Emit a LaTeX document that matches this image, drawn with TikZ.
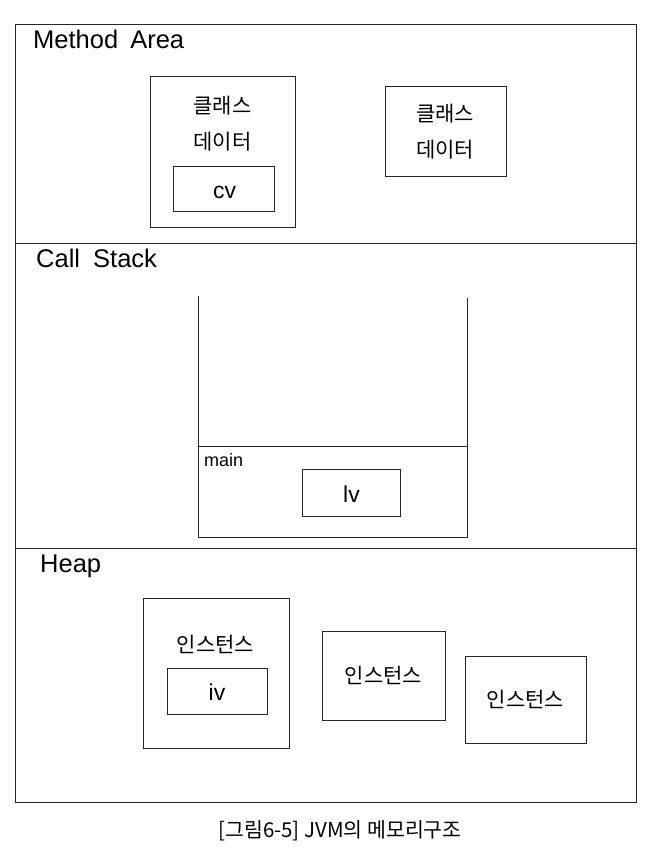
\documentclass[tikz,border=0pt]{standalone}
\usepackage{fontspec}
\setmainfont{Liberation Sans}
\newfontfamily\kr{Noto Sans CJK KR}
\begin{document}
\begin{tikzpicture}[x=1pt,y=-1pt,
  box/.style={draw=black!85,line width=1pt,inner sep=0pt},
  lbl/.style={inner sep=0pt,font=\fontsize{25.5}{30}\selectfont},
  krl/.style={inner sep=0pt,font=\kr\fontsize{21}{25}\selectfont},
  var/.style={inner sep=0pt,font=\fontsize{23}{27}\selectfont}]
\useasboundingbox[fill=white] (0,0) rectangle (648,866);
% outer frame and dividers
\node[box,minimum width=621pt,minimum height=777pt] (outer) at (325.5,413.5) {};
\coordinate (d1l) at (15,243.5); \coordinate (d1r) at (636,243.5);
\coordinate (d2l) at (15,548.5); \coordinate (d2r) at (636,548.5);
\draw[black!85,line width=1pt] (d1l) -- (d1r);
\draw[black!85,line width=1pt] (d2l) -- (d2r);
% Method Area
\node[lbl,anchor=base west] (ma) at (33,49) {Method\hspace{5pt} Area};
\node[box,minimum width=145pt,minimum height=151pt] (cd1) at (222.5,152.5) {};
\node[krl] (cd1a) at (222.5,106) {클래스};
\node[krl] (cd1b) at (222.5,142) {데이터};
\node[box,minimum width=101pt,minimum height=45pt] (cvb) at (223.5,189.5) {};
\node[var,anchor=base] (cv) at (224.5,199) {cv};
\node[box,minimum width=121pt,minimum height=90pt] (cd2) at (445.5,132) {};
\node[krl] (cd2a) at (445,114) {클래스};
\node[krl] (cd2b) at (445,150) {데이터};
% Call Stack
\node[lbl,anchor=base west] (cs) at (36,268) {Call\hspace{6pt} Stack};
\coordinate (stl) at (198,296); \coordinate (str) at (467,298);
\coordinate (sbl) at (198,537); \coordinate (sbr) at (467,537);
\coordinate (sml) at (198,446); \coordinate (smr) at (467,446);
\draw[black!85,line width=1pt] (stl) -- (sbl) -- (sbr) -- (str);
\draw[black!85,line width=1pt] (sml) -- (smr);
\node[inner sep=0pt,anchor=base west,font=\fontsize{18}{21}\selectfont] (main) at (204,466) {main};
\node[box,minimum width=98pt,minimum height=47pt] (lvb) at (351,492.5) {};
\node[var,anchor=base] (lv) at (351.5,502) {lv};
% Heap
\node[lbl,anchor=base west] (hp) at (40,572) {Heap};
\node[box,minimum width=146pt,minimum height=150pt] (in1) at (216,673) {};
\node[krl] (in1t) at (215.5,644) {인스턴스};
\node[box,minimum width=100pt,minimum height=46pt] (ivb) at (217,691) {};
\node[var,anchor=base] (iv) at (217,700) {iv};
\node[box,minimum width=123pt,minimum height=89pt] (in2) at (383.5,675.5) {};
\node[krl] (in2t) at (383.5,675) {인스턴스};
\node[box,minimum width=121pt,minimum height=87pt] (in3) at (525.5,699.5) {};
\node[krl] (in3t) at (525.5,699) {인스턴스};
% caption
\node[inner sep=0pt,font=\kr\fontsize{20.5}{24}\selectfont] (cap) at (340,831) {[그림6-5] JVM의 메모리구조};
\end{tikzpicture}
\end{document}
